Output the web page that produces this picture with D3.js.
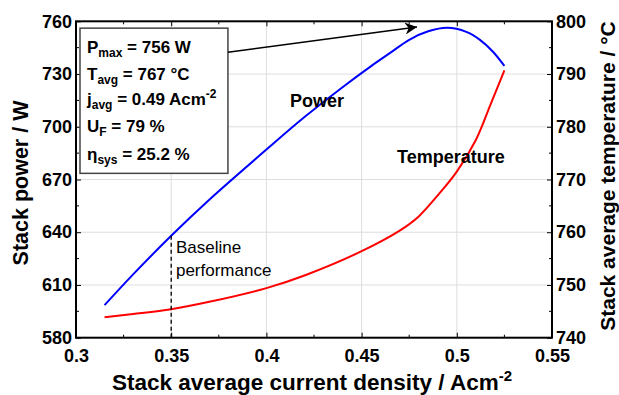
<!DOCTYPE html>
<html lang="en">
    <head>
        <meta charset="utf-8">
        <title>Stack power and temperature</title>
        <script src="https://d3js.org/d3.v7.min.js"></script>
        <style>
            body { margin: 0; background: #fff; }
            text { font-family: "Liberation Sans", Arial, sans-serif; }
        </style>
    </head>
    <body>
        <script type="text/javascript">
            var width = 619, height = 395;
            var margin = {top: 21.3, right: 67, bottom: 57.3, left: 76};

            // power curve (left axis)
            var jPower = [0.315, 0.33, 0.35, 0.37, 0.40, 0.42, 0.44, 0.455, 0.465, 0.475, 0.485, 0.495, 0.505, 0.512, 0.519, 0.525];
            var power  = [598.5, 616, 638, 658.5, 687, 705.5, 722.5, 734.5, 742, 749.5, 754.3, 756.3, 754, 749.6, 742.7, 734.6];

            // temperature curve (right axis)
            var jTemp = [0.315, 0.33, 0.35, 0.37, 0.40, 0.42, 0.45, 0.47, 0.48, 0.49, 0.50, 0.51, 0.518, 0.525];
            var temp  = [743.9, 744.5, 745.4, 746.8, 749.4, 751.8, 756.4, 760.3, 763, 767, 771.5, 777.5, 784.5, 790.7];

            var xTicks = [0.3, 0.35, 0.4, 0.45, 0.5, 0.55];
            var powerTicks = [580, 610, 640, 670, 700, 730, 760];
            var tempTicks = [740, 750, 760, 770, 780, 790, 800];

            var baselineJ = 0.35, baselineP = 638;

            var svg = d3.select("body").append("svg")
                .attr("width", width)
                .attr("height", height);

            var pw = width - margin.left - margin.right;
            var ph = height - margin.top - margin.bottom;

            var g = svg.append("g")
                .attr("transform", "translate(" + margin.left + "," + margin.top + ")");

            var x = d3.scaleLinear().domain([0.3, 0.55]).range([0, pw]);
            var yP = d3.scaleLinear().domain([580, 760]).range([ph, 0]);
            var yT = d3.scaleLinear().domain([740, 800]).range([ph, 0]);

            // grid
            g.selectAll("line.gx").data(xTicks.slice(1, -1)).enter().append("line")
                .attr("x1", d => x(d)).attr("x2", d => x(d))
                .attr("y1", 0).attr("y2", ph)
                .attr("stroke", "#dedede").attr("stroke-width", 1);
            g.selectAll("line.gy").data(powerTicks.slice(1, -1)).enter().append("line")
                .attr("x1", 0).attr("x2", pw)
                .attr("y1", d => yP(d)).attr("y2", d => yP(d))
                .attr("stroke", "#dedede").attr("stroke-width", 1);

            // minor ticks (midpoints)
            var xMinor = d3.pairs(xTicks).map(p => (p[0] + p[1]) / 2);
            var yMinor = d3.pairs(powerTicks).map(p => (p[0] + p[1]) / 2);
            xMinor.forEach(function (v) {
                g.append("line").attr("x1", x(v)).attr("x2", x(v)).attr("y1", ph).attr("y2", ph - 3).attr("stroke", "#000");
                g.append("line").attr("x1", x(v)).attr("x2", x(v)).attr("y1", 0).attr("y2", 3).attr("stroke", "#000");
            });
            yMinor.forEach(function (v) {
                g.append("line").attr("x1", 0).attr("x2", 3).attr("y1", yP(v)).attr("y2", yP(v)).attr("stroke", "#000");
                g.append("line").attr("x1", pw).attr("x2", pw - 3).attr("y1", yP(v)).attr("y2", yP(v)).attr("stroke", "#000");
            });

            // axes
            var fmt = d3.format("~g");
            var xAxis = g.append("g").attr("transform", "translate(0," + ph + ")")
                .call(d3.axisBottom(x).tickValues(xTicks).tickFormat(fmt).tickSize(-5).tickPadding(12));
            var topAxis = g.append("g")
                .call(d3.axisTop(x).tickValues(xTicks).tickFormat("").tickSize(-5));
            var leftAxis = g.append("g")
                .call(d3.axisLeft(yP).tickValues(powerTicks).tickSize(-5).tickPadding(4));
            var rightAxis = g.append("g").attr("transform", "translate(" + pw + ",0)")
                .call(d3.axisRight(yT).tickValues(tempTicks).tickSize(-5).tickPadding(4));

            [xAxis, topAxis, leftAxis, rightAxis].forEach(function (a) {
                a.select(".domain").remove();
                a.selectAll("text")
                    .attr("font-family", "Liberation Sans, Arial, sans-serif")
                    .attr("font-size", 18)
                    .attr("font-weight", "bold")
                    .attr("fill", "#000");
            });

            g.append("rect")
                .attr("width", pw).attr("height", ph)
                .attr("fill", "none").attr("stroke", "#000").attr("stroke-width", 2);

            // curves
            var powerLine = d3.line()
                .x((d, i) => x(jPower[i]))
                .y(d => yP(d))
                .curve(d3.curveCatmullRom.alpha(0.5));
            var tempLine = d3.line()
                .x((d, i) => x(jTemp[i]))
                .y(d => yT(d))
                .curve(d3.curveCatmullRom.alpha(0.5));

            g.append("path").datum(power).attr("d", powerLine)
                .attr("fill", "none").attr("stroke", "#0000ff").attr("stroke-width", 2);
            g.append("path").datum(temp).attr("d", tempLine)
                .attr("fill", "none").attr("stroke", "#ff0000").attr("stroke-width", 2);

            // baseline dashed marker
            g.append("line")
                .attr("x1", x(baselineJ)).attr("x2", x(baselineJ))
                .attr("y1", yP(baselineP)).attr("y2", ph)
                .attr("stroke", "#000").attr("stroke-width", 1.3)
                .attr("stroke-dasharray", "4,3");

            g.append("text").attr("x", x(0.3525)).attr("y", yP(628.4))
                .attr("font-size", 17).text("Baseline");
            g.append("text").attr("x", x(0.3525)).attr("y", yP(615))
                .attr("font-size", 17).text("performance");

            g.append("text").attr("x", x(0.4124)).attr("y", yP(711.2))
                .attr("font-size", 18).attr("font-weight", "bold").text("Power");
            g.append("text").attr("x", x(0.4686)).attr("y", yT(773.1))
                .attr("font-size", 18).attr("font-weight", "bold").text("Temperature");

            // info box
            var bx0 = x(0.3021), bx1 = x(0.3798), by0 = yP(756.1), by1 = yP(673.5);
            g.append("rect")
                .attr("x", bx0).attr("y", by0)
                .attr("width", bx1 - bx0).attr("height", by1 - by0)
                .attr("fill", "#fff").attr("stroke", "#444").attr("stroke-width", 1.5);

            var infoLines = [
                [["P", ""], ["max", "sub"], [" = 756 W", ""]],
                [["T", ""], ["avg", "sub"], [" = 767 \u00B0C", ""]],
                [["j", ""], ["avg", "sub"], [" = 0.49 Acm", ""], ["-2", "sup"]],
                [["U", ""], ["F", "sub"], [" = 79 %", ""]],
                [["\u03B7", ""], ["sys", "sub"], [" = 25.2 %", ""]]
            ];
            var lineY = [25, 51.7, 76.7, 103.7, 131.7];
            infoLines.forEach(function (parts, i) {
                var t = g.append("text")
                    .attr("x", bx0 + 7).attr("y", by0 + lineY[i])
                    .attr("font-size", 17).attr("font-weight", "bold");
                var shift = 0;
                parts.forEach(function (p) {
                    var dy = 0, fs = 17;
                    if (p[1] === "sub") { dy = 4 - shift; shift = 4; fs = 12; }
                    else if (p[1] === "sup") { dy = -7 - shift; shift = -7; fs = 12; }
                    else { dy = -shift; shift = 0; }
                    t.append("tspan").attr("dy", dy).attr("font-size", fs).text(p[0]);
                });
            });

            // arrow to maximum power
            svg.append("defs").append("marker")
                .attr("id", "arrow")
                .attr("viewBox", "0 0 10 10")
                .attr("refX", 10).attr("refY", 5)
                .attr("markerWidth", 18).attr("markerHeight", 12)
                .attr("markerUnits", "userSpaceOnUse")
                .attr("orient", "auto")
                .append("path").attr("d", "M0,0 L10,5 L0,10 L3,5 Z").attr("fill", "#000");

            g.append("line")
                .attr("x1", bx1).attr("y1", yP(742.4))
                .attr("x2", x(0.4791)).attr("y2", yP(756.8))
                .attr("stroke", "#000").attr("stroke-width", 1.5)
                .attr("marker-end", "url(#arrow)");

            // axis titles
            svg.append("text")
                .attr("x", margin.left + pw / 2 - 2).attr("y", 390)
                .attr("text-anchor", "middle")
                .attr("font-size", 22.5).attr("font-weight", "bold")
                .text("Stack average current density / Acm")
                .append("tspan").attr("dy", -9).attr("font-size", 15).text("-2");

            svg.append("text")
                .attr("transform", "translate(28,183) rotate(-90)")
                .attr("text-anchor", "middle")
                .attr("font-size", 21.5).attr("font-weight", "bold")
                .text("Stack power / W");

            svg.append("text")
                .attr("transform", "translate(615,176) rotate(-90)")
                .attr("text-anchor", "middle")
                .attr("font-size", 21).attr("font-weight", "bold")
                .text("Stack average temperature / \u00B0C");
        </script>
    </body>
</html>
